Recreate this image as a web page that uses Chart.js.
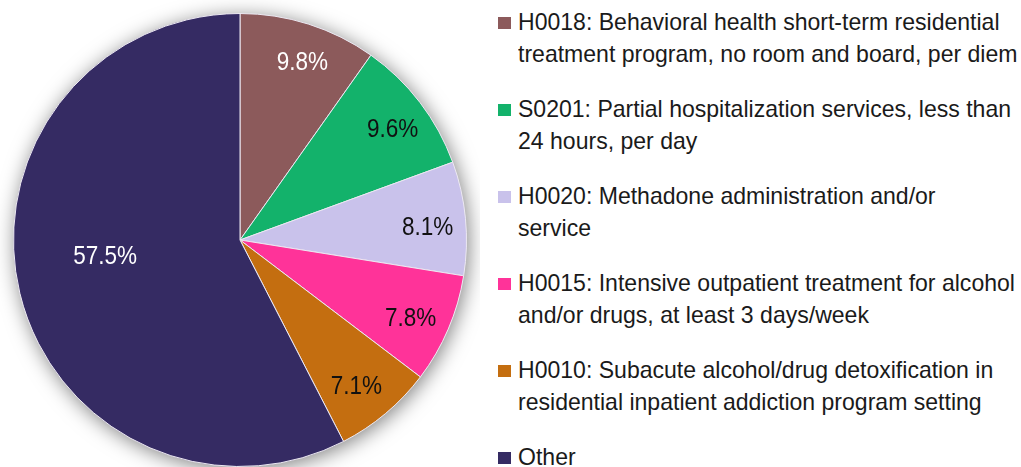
<!DOCTYPE html>
<html>
<head>
<meta charset="utf-8">
<script src="https://cdn.jsdelivr.net/npm/chart.js@4"></script>
<style>
  html, body { margin: 0; padding: 0; background: #fff; }
  body { width: 1021px; height: 467px; position: relative; overflow: hidden;
         font-family: "Liberation Sans", Arial, sans-serif; }
  #wrap { position: absolute; left: 0; top: 0; width: 480px; height: 467px; }
  #legend { position: absolute; left: 498px; top: 6px; list-style: none; margin: 0; padding: 0; }
  #legend li { position: relative; height: 64px; margin-bottom: 23px; }
  #legend .box { position: absolute; left: 0; top: 11px; width: 13px; height: 12px; }
  #legend .txt { position: absolute; left: 20px; top: 0; white-space: nowrap;
                 font-size: 24px; line-height: 32px; color: #1a1a1a;
                 transform: scaleX(0.96); transform-origin: left top; }
</style>
</head>
<body>
<div id="wrap"><canvas id="pie"></canvas></div>
<ul id="legend"></ul>
<script>
const codes = ['H0018', 'S0201', 'H0020', 'H0015', 'H0010', 'Other'];
const legendLines = [
  ['H0018: Behavioral health short-term residential', 'treatment program, no room and board, per diem'],
  ['S0201: Partial hospitalization services, less than', '24 hours, per day'],
  ['H0020: Methadone administration and/or', 'service'],
  ['H0015: Intensive outpatient treatment for alcohol', 'and/or drugs, at least 3 days/week'],
  ['H0010: Subacute alcohol/drug detoxification in', 'residential inpatient addiction program setting'],
  ['Other'],
];
const shares = [9.8, 9.6, 8.1, 7.8, 7.1, 57.5];

const COLORS = ['#8C5A5B', '#13B26B', '#C9C2EB', '#FF3399', '#C46E10', '#352B63'];
const LABEL_COLORS = ['#ffffff', '#111111', '#111111', '#111111', '#111111', '#ffffff'];

const pieShadow = {
  id: 'pieShadow',
  beforeDatasetsDraw(chart) {
    const arc = chart.getDatasetMeta(0).data[0];
    if (!arc) return;
    const ctx = chart.ctx;
    ctx.save();
    ctx.shadowColor = 'rgba(0,0,0,0.5)';
    ctx.shadowBlur = 20;
    ctx.shadowOffsetX = 2;
    ctx.shadowOffsetY = 3;
    ctx.fillStyle = '#ccc';
    ctx.beginPath();
    ctx.arc(arc.x, arc.y, arc.outerRadius, 0, Math.PI * 2);
    ctx.fill();
    ctx.restore();
  },
};

const sliceLabels = {
  id: 'sliceLabels',
  afterDatasetsDraw(chart) {
    const ctx = chart.ctx;
    const ds = chart.data.datasets[0];
    chart.getDatasetMeta(0).data.forEach((arc, i) => {
      const v = ds.data[i];
      const big = v > 50;
      const mid = (arc.startAngle + arc.endAngle) / 2 + (big ? 0.11 : 0.03);
      const r = arc.outerRadius * (big ? 0.6 : 0.83);
      const x = arc.x + Math.cos(mid) * r;
      const y = arc.y + Math.sin(mid) * r;
      ctx.save();
      ctx.translate(x, y);
      ctx.scale(0.9, 1);
      ctx.font = '25px "Liberation Sans", Arial, sans-serif';
      ctx.fillStyle = LABEL_COLORS[i];
      ctx.textAlign = 'center';
      ctx.textBaseline = 'middle';
      ctx.fillText(v.toFixed(1) + '%', 0, 0);
      ctx.restore();
    });
  },
};

new Chart(document.getElementById('pie'), {
  type: 'pie',
  data: {
    labels: codes,
    datasets: [{
      data: shares,
      backgroundColor: COLORS,
      borderColor: '#ECE8F2',
      borderWidth: 1,
    }],
  },
  options: {
    responsive: true,
    maintainAspectRatio: false,
    animation: false,
    layout: { padding: { top: 13, bottom: 0, left: 13, right: 13 } },
    plugins: { legend: { display: false }, tooltip: { enabled: false } },
  },
  plugins: [pieShadow, sliceLabels],
});

const ul = document.getElementById('legend');
codes.forEach((c, i) => {
  const li = document.createElement('li');
  const box = document.createElement('span');
  box.className = 'box';
  box.style.background = COLORS[i];
  const txt = document.createElement('span');
  txt.className = 'txt';
  txt.innerHTML = legendLines[i].join('<br>');
  li.appendChild(box);
  li.appendChild(txt);
  ul.appendChild(li);
});
</script>
</body>
</html>
